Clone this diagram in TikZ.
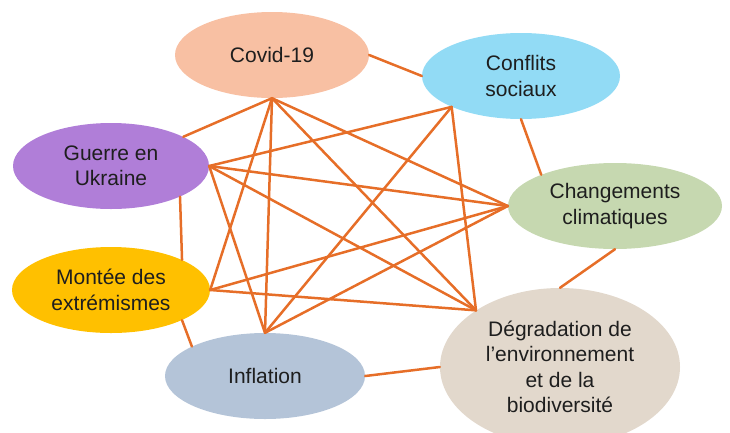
\documentclass[tikz,border=0pt]{standalone}
\usepackage{fontspec}
\setmainfont{Liberation Sans}
\usetikzlibrary{positioning,shapes}
\definecolor{covidfill}{RGB}{248,192,163}
\definecolor{conflfill}{RGB}{146,219,245}
\definecolor{guerfill}{RGB}{176,126,216}
\definecolor{climfill}{RGB}{198,216,176}
\definecolor{montfill}{RGB}{255,192,0}
\definecolor{inflfill}{RGB}{180,196,216}
\definecolor{degrfill}{RGB}{226,216,204}
\definecolor{linkorange}{RGB}{230,110,40}
\definecolor{textdark}{RGB}{30,30,30}

\begin{document}
\begin{tikzpicture}[x=1pt,y=-1pt,
    theme/.style={ellipse,inner sep=0pt,align=center,text=textdark,
      font=\fontsize{21}{25.5}\selectfont},
    link/.style={draw=linkorange,line width=2.5pt,line cap=round}]

    \useasboundingbox (0,0) rectangle (730,432);

    % Set themes
    \node[theme,fill=covidfill,minimum width=194pt,minimum height=86pt] (cov) at (272,55) {Covid-19};
    \node[theme,fill=conflfill,minimum width=198pt,minimum height=86pt] (con) at (521,76) {Conflits\\sociaux};
    \node[theme,fill=guerfill,minimum width=196pt,minimum height=86pt] (gue) at (111,166) {Guerre en\\Ukraine};
    \node[theme,fill=climfill,minimum width=214pt,minimum height=86pt] (cha) at (615,206) {Changements\\climatiques};
    \node[theme,fill=montfill,minimum width=198pt,minimum height=86pt] (mon) at (111,290) {Montée des\\extrémismes};
    \node[theme,fill=inflfill,minimum width=200pt,minimum height=86pt] (inf) at (265,376) {Inflation};
    \node[theme,fill=degrfill,minimum width=240pt,minimum height=158pt] (deg) at (560,367)
      {Dégradation de\\l’environnement\\et de la\\biodiversité};

    % Draw lines
    \draw[link] (cov.east) -- (con.west);
    \draw[link] (cov.south) -- (gue.22);
    \draw[link] (cov.south) -- (mon.east);
    \draw[link] (cov.south) -- (inf.north);
    \draw[link] (cov.south) -- (cha.west);
    \draw[link] (cov.south) -- (deg.146);
    \draw[link] (gue.east) -- (con.204);
    \draw[link] (gue.east) -- (cha.west);
    \draw[link] (gue.east) -- (deg.146);
    \draw[link] (gue.east) -- (inf.north);
    \draw[link] (gue.-24) -- (mon.23);
    \draw[link] (con.204) -- (inf.north);
    \draw[link] (con.204) -- (deg.146);
    \draw[link] (con.south) -- (cha.157);
    \draw[link] (mon.east) -- (cha.west);
    \draw[link] (mon.east) -- (deg.146);
    \draw[link] (mon.-23) -- (inf.158);
    \draw[link] (inf.north) -- (cha.west);
    \draw[link] (inf.east) -- (deg.west);
    \draw[link] (cha.south) -- (deg.north);
  \end{tikzpicture}
\end{document}
